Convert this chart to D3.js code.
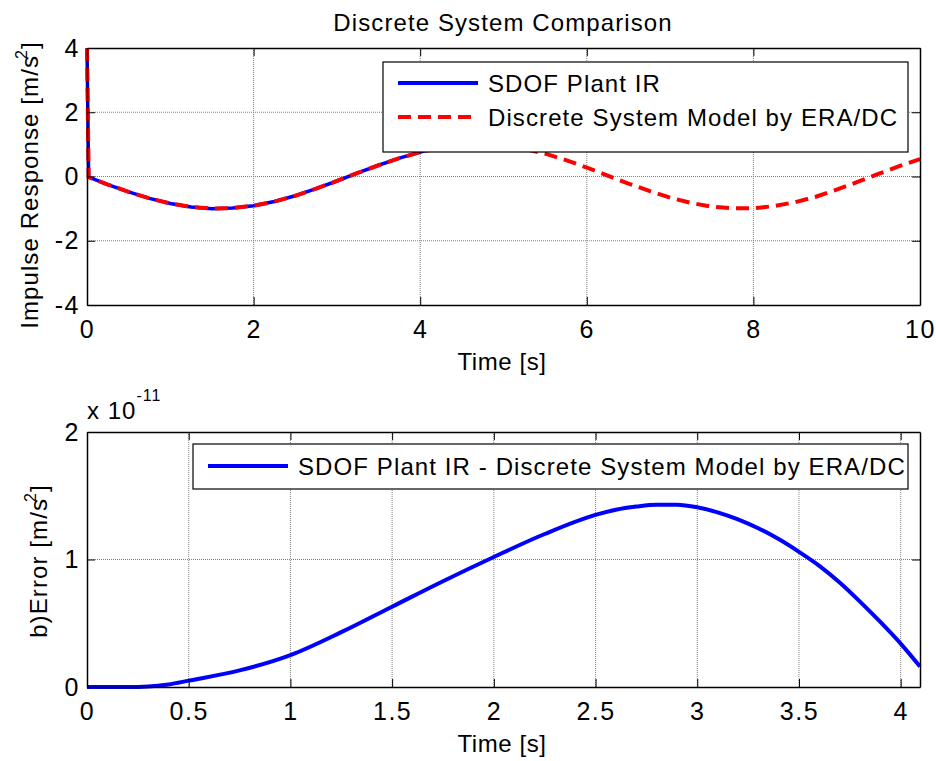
<!DOCTYPE html>
<meta charset="utf-8">
<style>
body { margin: 0; background: #fff; }
text { font-family: "Liberation Sans", Arial, sans-serif; fill: #000; }
</style>
<body>
<script src="https://d3js.org/d3.v7.min.js"></script>
<script>
// top panel: SDOF plant impulse response (ends near 4.1 s) and ERA/DC model (to 10 s)
var modelTime = [0, 0.02, 0.25, 0.5, 0.75, 1, 1.25, 1.5, 1.75, 2, 2.25, 2.5, 2.75, 3, 3.25, 3.5, 3.75, 4,
                 4.25, 4.5, 4.75, 5, 5.25, 5.5, 5.75, 6, 6.25, 6.5, 6.75, 7, 7.25, 7.5, 7.75, 8,
                 8.25, 8.5, 8.75, 9, 9.25, 9.5, 9.75, 10];
var modelIR = [4, -0.02, -0.25, -0.48, -0.68, -0.84, -0.95, -1.0, -0.98, -0.91, -0.78, -0.6, -0.38, -0.14, 0.11, 0.35, 0.57, 0.76,
               0.9, 0.98, 1.0, 0.96, 0.86, 0.71, 0.51, 0.28, 0.03, -0.22, -0.45, -0.66, -0.82, -0.94, -0.99, -0.99,
               -0.92, -0.8, -0.63, -0.41, -0.17, 0.08, 0.32, 0.54];
var plantTime = [0, 0.02, 0.25, 0.5, 0.75, 1, 1.25, 1.5, 1.75, 2, 2.25, 2.5, 2.75, 3, 3.25, 3.5, 3.75, 4, 4.095];
var plantIR = [4, -0.02, -0.25, -0.48, -0.68, -0.84, -0.95, -1.0, -0.98, -0.91, -0.78, -0.6, -0.38, -0.14, 0.11, 0.35, 0.57, 0.76, 0.82];
var topXTicks = [0, 2, 4, 6, 8, 10];
var topYTicks = [-4, -2, 0, 2, 4];

// bottom panel: error, in units of 1e-11
var errTime = [0, 0.1, 0.2, 0.3, 0.4, 0.5, 0.75, 1, 1.25, 1.5, 1.75, 2, 2.25, 2.5, 2.6, 2.7, 2.8, 2.9,
               3, 3.1, 3.2, 3.3, 3.4, 3.5, 3.6, 3.7, 3.8, 3.9, 4, 4.095];
var errValue = [0, 0, 0, 0.004, 0.02, 0.05, 0.13, 0.25, 0.43, 0.63, 0.83, 1.02, 1.2, 1.35, 1.39, 1.415, 1.43, 1.43,
                1.41, 1.37, 1.315, 1.245, 1.16, 1.06, 0.95, 0.82, 0.67, 0.51, 0.34, 0.16];
var botXTicks = [0, 0.5, 1, 1.5, 2, 2.5, 3, 3.5, 4];
var botYTicks = [0, 1, 2];

var svg = d3.select("body").append("svg")
    .attr("width", 936)
    .attr("height", 761);

svg.append("rect").attr("width", 936).attr("height", 761).attr("fill", "#fff");

function panel(o) {
    var x = d3.scaleLinear().domain(o.xDomain).range([87, 920]);
    var y = d3.scaleLinear().domain(o.yDomain).range([o.bottom, o.top]);
    var g = svg.append("g");

    // dotted grid
    g.append("g").selectAll("line")
        .data(o.xTicks.filter(function(d) { return x(d) > 88 && x(d) < 919; }))
        .enter().append("line")
        .attr("x1", function(d) { return x(d); })
        .attr("x2", function(d) { return x(d); })
        .attr("y1", o.top).attr("y2", o.bottom)
        .attr("stroke", "#808080").attr("stroke-dasharray", "1,1");
    g.append("g").selectAll("line")
        .data(o.yTicks.filter(function(d) { return y(d) > o.top + 1 && y(d) < o.bottom - 1; }))
        .enter().append("line")
        .attr("y1", function(d) { return y(d); })
        .attr("y2", function(d) { return y(d); })
        .attr("x1", 87).attr("x2", 920)
        .attr("stroke", "#808080").attr("stroke-dasharray", "1,1");

    var lines = g.append("g");

    var axes = g.append("g");
    axes.append("g")
        .attr("transform", "translate(0," + o.bottom + ")")
        .call(d3.axisBottom(x).tickValues(o.xTicks).tickSize(-8).tickSizeOuter(0).tickPadding(15)
            .tickFormat(function(d) { return String(d); }));
    axes.append("g")
        .attr("transform", "translate(0," + o.top + ")")
        .call(d3.axisTop(x).tickValues(o.xTicks).tickSize(-8).tickSizeOuter(0).tickFormat(""));
    axes.append("g")
        .attr("transform", "translate(87,0)")
        .call(d3.axisLeft(y).tickValues(o.yTicks).tickSize(-8).tickSizeOuter(0).tickPadding(7)
            .tickFormat(function(d) { return String(d); }));
    axes.append("g")
        .attr("transform", "translate(920,0)")
        .call(d3.axisRight(y).tickValues(o.yTicks).tickSize(-8).tickSizeOuter(0).tickFormat(""));
    axes.selectAll("g").attr("font-family", "'Liberation Sans', Arial, sans-serif");
    axes.selectAll("text").attr("font-size", 25).attr("letter-spacing", 1.5).attr("fill", "#000");
    axes.selectAll("path.domain").attr("stroke", "#000").attr("stroke-width", 1.5);
    axes.selectAll(".tick line").attr("stroke", "#000").attr("stroke-width", 1);

    return { x: x, y: y, lines: lines, g: g };
}

function legend(g, box, items) {
    var lg = g.append("g");
    lg.append("rect")
        .attr("x", box.x).attr("y", box.y)
        .attr("width", box.w).attr("height", box.h)
        .attr("fill", "#fff").attr("stroke", "#000").attr("stroke-width", 1.2);
    items.forEach(function(it, i) {
        var cy = box.y + box.first + i * box.step;
        lg.append("line")
            .attr("x1", box.x + 15).attr("x2", box.x + 95)
            .attr("y1", cy).attr("y2", cy)
            .attr("stroke", it.color).attr("stroke-width", it.width)
            .attr("stroke-dasharray", it.dash || null);
        lg.append("text")
            .attr("x", box.x + 105).attr("y", cy + 8.5)
            .attr("font-size", 24).attr("letter-spacing", 1.1)
            .text(it.label);
    });
}

// ---- top panel ----
var p1 = panel({ xDomain: [0, 10], yDomain: [-4, 4], top: 48, bottom: 305, xTicks: topXTicks, yTicks: topYTicks });

var line1 = d3.line().x(function(d) { return p1.x(d[0]); }).y(function(d) { return p1.y(d[1]); });
p1.lines.append("path")
    .datum(d3.zip(plantTime, plantIR))
    .attr("d", line1).attr("fill", "none")
    .attr("stroke", "#0000ff").attr("stroke-width", 3.5);
p1.lines.append("path")
    .datum(d3.zip(modelTime, modelIR))
    .attr("d", line1).attr("fill", "none")
    .attr("stroke", "#ff0000").attr("stroke-width", 4)
    .attr("stroke-dasharray", "13,7");

svg.append("text").attr("x", 503).attr("y", 30.5).attr("text-anchor", "middle")
    .attr("font-size", 24).attr("letter-spacing", 1.1).text("Discrete System Comparison");
svg.append("text").attr("x", 502).attr("y", 370).attr("text-anchor", "middle")
    .attr("font-size", 24).attr("letter-spacing", 0.6).text("Time [s]");

var yl1 = svg.append("text").attr("transform", "translate(38,185) rotate(-90)")
    .attr("text-anchor", "middle").attr("font-size", 24).attr("letter-spacing", 1.1);
yl1.append("tspan").text("Impulse Response [m/s");
yl1.append("tspan").attr("font-size", 16).attr("dy", -11).attr("dx", -4).text("2");
yl1.append("tspan").attr("dy", 11).text("]");

legend(p1.g, { x: 383, y: 62, w: 525, h: 90, first: 21, step: 34 }, [
    { label: "SDOF Plant IR", color: "#0000ff", width: 4 },
    { label: "Discrete System Model by ERA/DC", color: "#ff0000", width: 4, dash: "13,7" }
]);

// ---- bottom panel ----
var p2 = panel({ xDomain: [0, 4.095], yDomain: [0, 2], top: 432, bottom: 687, xTicks: botXTicks, yTicks: botYTicks });

var line2 = d3.line().x(function(d) { return p2.x(d[0]); }).y(function(d) { return p2.y(d[1]); })
    .curve(d3.curveMonotoneX);
p2.lines.append("path")
    .datum(d3.zip(errTime, errValue))
    .attr("d", line2).attr("fill", "none")
    .attr("stroke", "#0000ff").attr("stroke-width", 4);

svg.append("text").attr("x", 502).attr("y", 752).attr("text-anchor", "middle")
    .attr("font-size", 24).attr("letter-spacing", 0.6).text("Time [s]");

var sc = svg.append("text").attr("x", 87).attr("y", 419).attr("font-size", 24).attr("letter-spacing", 1);
sc.append("tspan").text("x 10");
sc.append("tspan").attr("font-size", 16).attr("dy", -18).text("-11");

var yl2 = svg.append("text").attr("transform", "translate(47,561) rotate(-90)")
    .attr("text-anchor", "middle").attr("font-size", 24).attr("letter-spacing", 1.1);
yl2.append("tspan").text("b)Error [m/s");
yl2.append("tspan").attr("font-size", 16).attr("dy", -11).attr("dx", -4).text("2");
yl2.append("tspan").attr("dy", 11).text("]");

legend(p2.g, { x: 193, y: 444, w: 715, h: 45, first: 22, step: 0 }, [
    { label: "SDOF Plant IR - Discrete System Model by ERA/DC", color: "#0000ff", width: 4 }
]);
</script>
</body>
